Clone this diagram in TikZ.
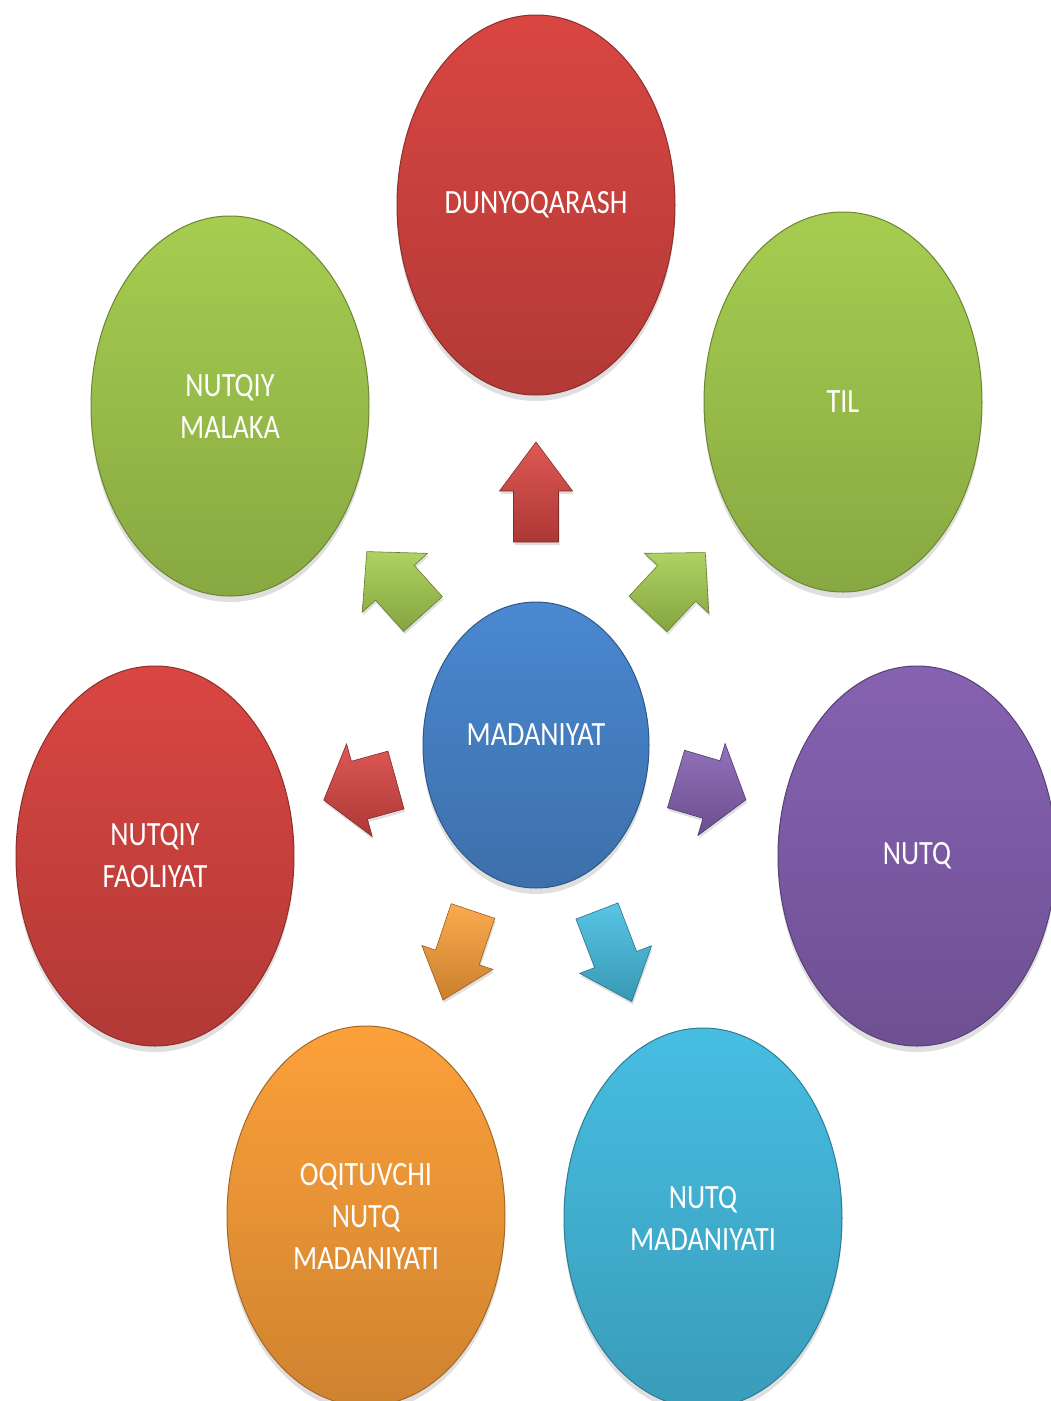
\documentclass[tikz,border=0pt]{standalone}
\usepackage{fontspec}
\newfontfamily\bubblefont[FakeStretch=0.83]{Carlito}
\usetikzlibrary{shapes.geometric,shadows}

\definecolor{dunred}{RGB}{217,70,66}
\definecolor{malgreen}{RGB}{166,205,80}
\definecolor{madblue}{RGB}{74,136,208}
\definecolor{nutpurple}{RGB}{134,98,178}
\definecolor{oqorange}{RGB}{252,160,58}
\definecolor{nmcyan}{RGB}{70,190,226}

\tikzset{
  bubble/.style={ellipse, minimum width=278pt, minimum height=380pt, inner sep=0pt,
    top color=#1, bottom color=#1!82!black, draw=#1!65!black, line width=1pt,
    drop shadow={shadow xshift=0pt, shadow yshift=-6pt, opacity=0.25},
    text=white, align=center, font=\bubblefont\fontsize{34}{42}\selectfont},
  blockarrow/.style={top color=#1!90!white, bottom color=#1!80!black, draw=#1!60!black,
    line width=0.6pt, line join=miter,
    drop shadow={shadow xshift=1pt, shadow yshift=-3pt, opacity=0.25}}
}

\begin{document}
\begin{tikzpicture}[x=1pt, y=1pt]
\useasboundingbox (0,0) rectangle (1051,-1401);
\clip (0,0) rectangle (1051,-1401);

\node[bubble=dunred] (dun) at (536,-205) {DUNYOQARASH};
\node[bubble=malgreen] (mal) at (230,-406) {NUTQIY\\MALAKA};
\node[bubble=malgreen] (til) at (843,-402) {TIL};
\node[bubble=dunred] (fao) at (155,-856) {NUTQIY\\FAOLIYAT};
\node[bubble=nutpurple] (nutq) at (917,-856) {NUTQ};
\node[bubble=oqorange] (oqi) at (366,-1216) {OQITUVCHI\\NUTQ\\MADANIYATI};
\node[bubble=nmcyan] (nmad) at (703,-1218) {NUTQ\\MADANIYATI};

\node[bubble=madblue, minimum width=226pt, minimum height=286pt, text depth=20pt] (mad) at (536,-745) {MADANIYAT};

% block arrows: tail x / tail y / angle / length / head / shaft / head width / colour
\foreach \tx/\ty/\ang/\len/\hd/\sw/\hw/\col in {
  536/542/90/100/49/22.5/36.5/dunred,
  423/614/132/84/42/26/44/malgreen,
  648/614/47/84/42/26/44/malgreen,
  396/780/195.5/75/37/30/48/dunred,
  676/779/-16.5/73/36/30/48/nutpurple,
  473/911/251.4/94/45/23/37.5/oqorange,
  597/911/-69/97/45/22.5/38.5/nmcyan}
\path[blockarrow=\col, shift={(\tx,-\ty)}, rotate=\ang]
  (0,-\sw) -- (\len-\hd,-\sw) -- (\len-\hd,-\hw) -- (\len,0)
  -- (\len-\hd,\hw) -- (\len-\hd,\sw) -- (0,\sw) -- cycle;

\end{tikzpicture}
\end{document}
